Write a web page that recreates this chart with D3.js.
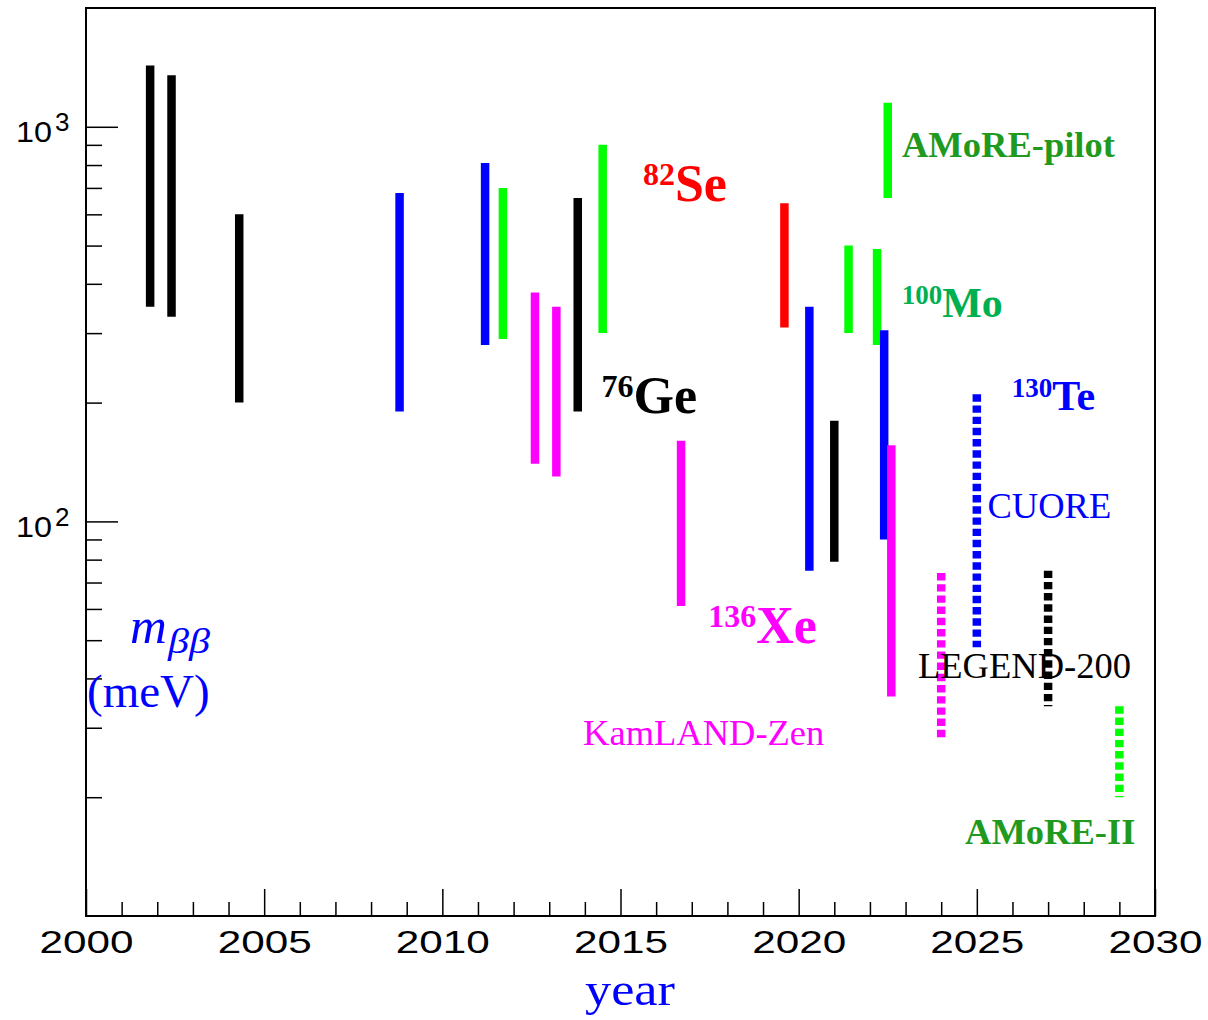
<!DOCTYPE html>
<html>
<head>
<meta charset="utf-8">
<script src="https://cdn.jsdelivr.net/npm/d3@7"></script>
<style>
  html, body { margin: 0; padding: 0; background: #fff; }
  svg { display: block; }
</style>
</head>
<body>
<script>
// Sensitivity ranges on the effective Majorana mass (meV) versus year,
// past results (solid) and projected reach (dotted).
const barYear   = [2001.8, 2002.4, 2004.3, 2008.8, 2011.2, 2011.7, 2012.6, 2013.2, 2013.8, 2014.5,
                   2016.7, 2019.6, 2020.3, 2021.0, 2021.4, 2022.2, 2022.5, 2022.4, 2022.6,
                   2024.0, 2025.0, 2027.0, 2029.0];
const barLow    = [350, 330, 200, 190, 280, 290, 140, 130, 190, 300,
                   61, 310, 75, 79, 300, 280, 660, 90, 36,
                   28, 48, 34, 20];
const barHigh   = [1430, 1350, 600, 680, 810, 700, 380, 350, 660, 900,
                   160, 640, 350, 180, 500, 490, 1150, 305, 156,
                   74, 210, 75, 34];
const barIsotope = ["Ge", "Ge", "Ge", "Te", "Te", "Mo", "Xe", "Xe", "Ge", "Mo",
                    "Xe", "Se", "Te", "Ge", "Mo", "Mo", "Mo", "Te", "Xe",
                    "Xe", "Te", "Ge", "Mo"];
const barProjected = [false, false, false, false, false, false, false, false, false, false,
                      false, false, false, false, false, false, false, false, false,
                      true, true, true, true];

const isotopeColor = { Ge: "#000000", Te: "#0000ff", Mo: "#00ff00", Xe: "#ff00ff", Se: "#ff0000" };

const xTicksMajor = [2000, 2005, 2010, 2015, 2020, 2025, 2030];
const yTicksMajor = [100, 1000];
const yTickExp    = ["2", "3"];

// Isotope labels: [mass number, symbol, year, value, colour, size]
const isotopeLabels = [
  ["82",  "Se", 2015.63, 647,  "#ff0000", "big"],
  ["76",  "Ge", 2014.47, 188.6, "#000000", "big"],
  ["136", "Xe", 2017.46, 49.3, "#ff00ff", "big"],
  ["100", "Mo", 2022.89, 330,  "#00b050", "small"],
  ["130", "Te", 2025.98, 191.8, "#0000ff", "small"]
];
// Experiment labels: [text, year, value, colour, bold]
const experimentLabels = [
  ["AMoRE-pilot", 2022.9, 839, "#1f9a1f", true],
  ["CUORE", 2025.3, 102, "#0000ff", false],
  ["LEGEND-200", 2023.35, 40.2, "#000000", false],
  ["KamLAND-Zen", 2013.95, 27.2, "#ff00ff", false],
  ["AMoRE-II", 2024.67, 15.2, "#1f9a1f", true]
];

const W = 1208, H = 1020;
const svg = d3.select("body").append("svg").attr("width", W).attr("height", H);

const x = d3.scaleLinear().domain([2000, 2030]).range([86, 1155]);
const y = d3.scaleLog().domain([10, 2000]).range([916, 8]);

const serif = "'Liberation Serif', 'Times New Roman', serif";
const sans = "'Liberation Sans', Arial, Helvetica, sans-serif";

// ---- axes (ticks point into the frame) ----
const xMinor = d3.range(2000, 2031).filter(v => v % 5 !== 0);
svg.append("g").attr("transform", "translate(0,916)")
  .call(d3.axisBottom(x).tickValues(xMinor).tickSize(-14).tickSizeOuter(0).tickFormat(""));
const gxMajor = svg.append("g").attr("transform", "translate(0,916)")
  .call(d3.axisBottom(x).tickValues(xTicksMajor).tickSize(-27).tickSizeOuter(0)
        .tickPadding(14).tickFormat(d3.format("d")));
gxMajor.selectAll("text")
  .attr("font-family", sans).attr("font-size", 32).attr("fill", "#000")
  .attr("textLength", 94).attr("lengthAdjust", "spacingAndGlyphs");

const yMinor = d3.range(20, 100, 10).concat(d3.range(200, 1000, 100));
svg.append("g").attr("transform", "translate(86,0)")
  .call(d3.axisLeft(y).tickValues(yMinor).tickSize(-16).tickSizeOuter(0).tickFormat(""));
svg.append("g").attr("transform", "translate(86,0)")
  .call(d3.axisLeft(y).tickValues(yTicksMajor).tickSize(-32).tickSizeOuter(0).tickFormat(""));

svg.selectAll(".domain").remove();
svg.selectAll(".tick line").attr("stroke", "#000").attr("stroke-width", 1.5);

// power-of-ten labels
const yl = svg.append("g").selectAll("g").data(yTicksMajor).join("g");
yl.append("text")
  .attr("x", 16).attr("y", d => y(d) + 15.5)
  .attr("font-family", sans).attr("font-size", 30)
  .attr("textLength", 36).attr("lengthAdjust", "spacingAndGlyphs")
  .text("10");
yl.append("text")
  .attr("x", 55).attr("y", d => y(d) + 4.5)
  .attr("font-family", sans).attr("font-size", 26)
  .text((d, i) => yTickExp[i]);

// frame
svg.append("rect")
  .attr("x", 86).attr("y", 8).attr("width", 1155 - 86).attr("height", 916 - 8)
  .attr("fill", "none").attr("stroke", "#000").attr("stroke-width", 2);

// ---- sensitivity bars ----
const bars = barYear.map((yr, i) => ({
  year: yr, low: barLow[i], high: barHigh[i],
  color: isotopeColor[barIsotope[i]], projected: barProjected[i]
}));

svg.append("g").selectAll("line").data(bars).join("line")
  .attr("x1", d => x(d.year)).attr("x2", d => x(d.year))
  .attr("y1", d => y(d.high)).attr("y2", d => y(d.low))
  .attr("stroke", d => d.color)
  .attr("stroke-width", 8.5)
  .attr("stroke-linecap", "butt")
  .attr("stroke-dasharray", d => d.projected ? "7.4,3.8" : null);

// ---- isotope labels ----
isotopeLabels.forEach(([a, sym, yr, v, col, sz]) => {
  const big = sz === "big";
  const t = svg.append("text")
    .attr("x", x(yr)).attr("y", y(v))
    .attr("font-family", serif).attr("font-weight", "bold").attr("fill", col);
  const shift = big ? 16 : 13;
  t.append("tspan").attr("font-size", big ? 32 : 27).attr("dy", -shift).text(a);
  t.append("tspan").attr("font-size", big ? 52 : 42).attr("dy", shift).text(sym);
});

// ---- experiment labels ----
svg.append("g").selectAll("text").data(experimentLabels).join("text")
  .attr("x", d => x(d[1])).attr("y", d => y(d[2]))
  .attr("font-family", serif)
  .attr("font-weight", d => d[4] ? "bold" : "normal")
  .attr("font-size", 36.5)
  .attr("fill", d => d[3])
  .text(d => d[0]);

// ---- axis titles ----
svg.append("text")
  .attr("x", 585).attr("y", 1005)
  .attr("font-family", serif).attr("font-size", 47).attr("fill", "#0000ff")
  .attr("textLength", 90).attr("lengthAdjust", "spacingAndGlyphs")
  .text("year");

const yt = svg.append("g").attr("fill", "#0000ff").attr("font-family", serif);
yt.append("text").attr("x", 130).attr("y", 643)
  .attr("font-style", "italic").attr("font-size", 51).text("m");
yt.append("text").attr("x", 168).attr("y", 653)
  .attr("font-style", "italic").attr("font-size", 36)
  .attr("textLength", 42).attr("lengthAdjust", "spacingAndGlyphs")
  .text("ββ");
yt.append("text").attr("x", 87).attr("y", 707)
  .attr("font-size", 47).text("(meV)");
</script>
</body>
</html>
